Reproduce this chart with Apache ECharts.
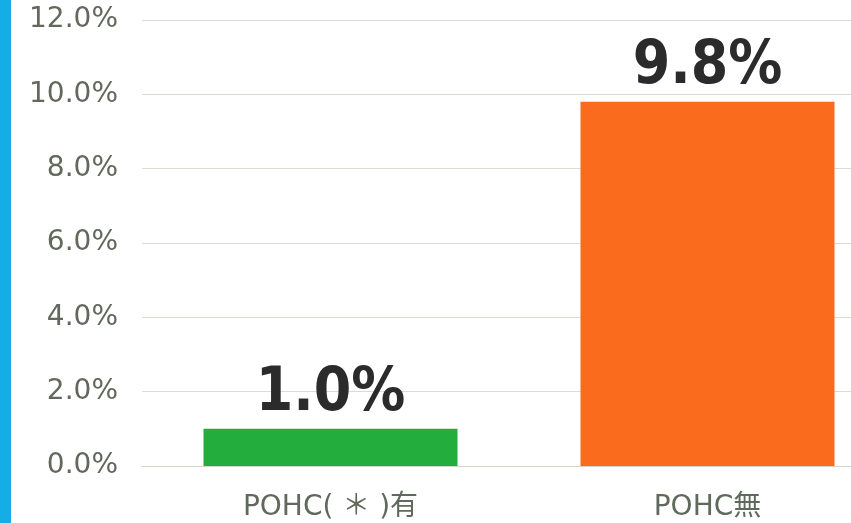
<!DOCTYPE html>
<html>
<head>
<meta charset="utf-8">
<script src="https://cdn.jsdelivr.net/npm/echarts@6/dist/echarts.min.js"></script>
<style>
    html, body { margin: 0; padding: 0; background: #fff; overflow: hidden; }
    #chart { width: 896px; height: 523px; }
</style>
</head>
<body>
<div id="chart"></div>
<script>
// POHC有無別の割合
var categories = ['POHC( ＊ )有', 'POHC無']
var values = [1.0, 9.8]
var barColors = ['#22ad3c', '#fb6b1d']
var yTicks = [0, 2, 4, 6, 8, 10, 12]

var chart = echarts.init(document.getElementById('chart'))
chart.setOption({
    backgroundColor: '#fff',
    animation: false,
    graphic: [
        {
            type: 'rect',
            left: 0,
            top: 0,
            shape: { width: 11, height: 523 },
            style: { fill: '#16ade6' }
        }
    ],
    grid: {
        left: 142,
        right: 0,
        top: 20,
        bottom: 57
    },
    xAxis: {
        type: 'category',
        data: categories,
        axisTick: { show: false },
        axisLine: {
            lineStyle: { color: '#d4d4cc', width: 1 }
        },
        axisLabel: {
            color: '#5f6a5c',
            fontFamily: 'DejaVu Sans, Noto Sans CJK JP',
            fontSize: 28,
            margin: 28
        }
    },
    yAxis: {
        type: 'value',
        min: yTicks[0],
        max: yTicks[yTicks.length - 1],
        interval: 2,
        axisLine: { show: false },
        axisTick: { show: false },
        splitLine: {
            lineStyle: { color: '#dcdccf', width: 1 }
        },
        axisLabel: {
            color: '#62695c',
            fontFamily: 'DejaVu Sans',
            fontSize: 28,
            margin: 24,
            formatter: function (v) {
                return v.toFixed(1) + '%'
            }
        }
    },
    series: [
        {
            type: 'bar',
            barWidth: 254,
            data: values.map(function (v, i) {
                return { value: v, itemStyle: { color: barColors[i] } }
            }),
            label: {
                show: true,
                position: 'top',
                distance: 4,
                color: '#2b2b2b',
                fontFamily: 'DejaVu Sans Condensed, Liberation Sans Narrow, sans-serif',
                fontWeight: 'bold',
                fontSize: 60,
                formatter: function (p) {
                    return p.value.toFixed(1) + '%'
                }
            }
        }
    ]
})
</script>
</body>
</html>
